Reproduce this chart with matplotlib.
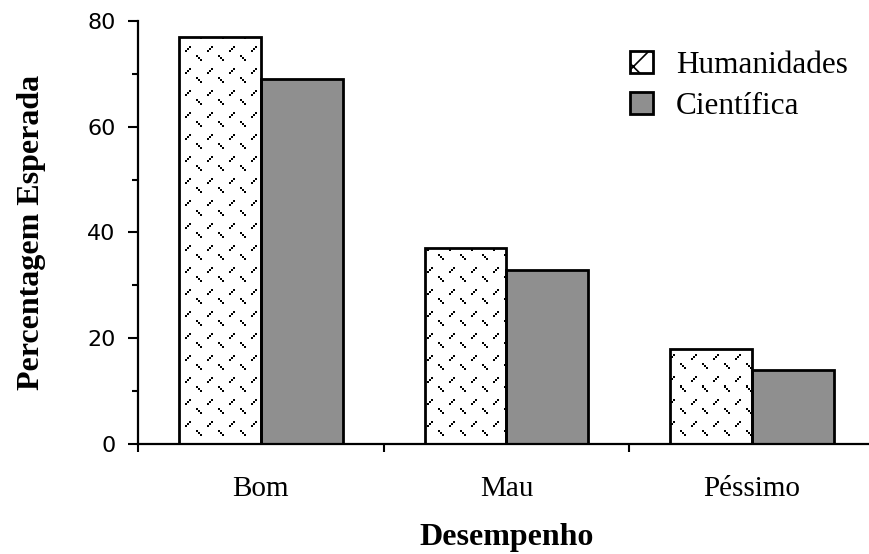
import numpy as np
import matplotlib.pyplot as plt
from matplotlib.patches import Patch

categories = ["Bom", "Mau", "Péssimo"]
humanidades = [77, 37, 18]
cientifica = [69, 33, 14]
series_names = ["Humanidades", "Científica"]

serif = "Liberation Serif"
grey = "#8f8f8f"

fig = plt.figure(figsize=(8.69, 5.54), dpi=100)
ax = fig.add_axes([138 / 869, 110 / 554, 737 / 869, 423 / 554])

x = np.arange(len(categories))
w = 1 / 3

# hatched bars: white face, texture image clipped to each bar, edge on top
h_bars = ax.bar(x - w / 2, humanidades, w, color="white", edgecolor="none", zorder=1)
ax.bar(x + w / 2, cientifica, w, color=grey, edgecolor="black", linewidth=2, zorder=2)
ax.bar(x - w / 2, humanidades, w, fill=False, edgecolor="black", linewidth=2, zorder=3)

# dotted zigzag texture, one pixel per image cell
rows, cols = 423, 737
tex = np.ones((rows, cols, 4))
tile = np.zeros((22, 22), dtype=bool)
for k in range(0, 6, 2):
    tile[8 - k:10 - k, 3 + k:5 + k] = True      # "/"
    tile[13 + k:15 + k, 14 + k:16 + k] = True    # "\"
mask = np.tile(tile, (rows // 22 + 1, cols // 22 + 1))[:rows, :cols]
tex[mask, :3] = 0
for b in h_bars:
    im = ax.imshow(tex, extent=(-0.5, 2.5, 0, 80), origin="upper", aspect="auto",
                   interpolation="nearest", zorder=1.5)
    im.set_clip_path(b)
ax.set_xlim(-0.5, 2.5)
ax.set_ylim(0, 80)

for s in ["top", "right"]:
    ax.spines[s].set_visible(False)
ax.spines["left"].set_linewidth(1.6)
ax.spines["bottom"].set_linewidth(1.6)

ax.set_yticks([0, 20, 40, 60, 80])
ax.set_yticks([10, 30, 50, 70], minor=True)
ax.tick_params(axis="y", which="major", direction="out", length=7, width=1.5,
               pad=9, labelsize=16)
ax.tick_params(axis="y", which="minor", direction="out", length=4, width=1.5)

ax.set_xticks([-0.5, 0.5, 1.5, 2.5])
ax.set_xticklabels([])
ax.set_xticks(x, minor=True)
ax.set_xticklabels(categories, minor=True, fontfamily=serif, fontsize=21)
ax.tick_params(axis="x", which="major", direction="out", length=6, width=1.5)
ax.tick_params(axis="x", which="minor", length=0, pad=23)

ax.set_ylabel("Percentagem Esperada", fontfamily=serif, fontsize=23,
              fontweight="bold", labelpad=30)
ax.set_xlabel("Desempenho", fontfamily=serif, fontsize=23, fontweight="bold",
              labelpad=15)

plt.rcParams["hatch.linewidth"] = 1.2
handles = [Patch(facecolor="white", edgecolor="black", linewidth=2, hatch="x"),
           Patch(facecolor=grey, edgecolor="black", linewidth=2)]
fig.legend(handles, series_names, loc="upper left", bbox_to_anchor=(630 / 869, 1 - 51 / 554),
           bbox_transform=fig.transFigure, frameon=False, borderpad=0, borderaxespad=0,
           handlelength=0.72, handleheight=0.72, handletextpad=0.75, labelspacing=0.38,
           prop={"family": serif, "size": 22.5})

fig.savefig("out.png", dpi=100)
